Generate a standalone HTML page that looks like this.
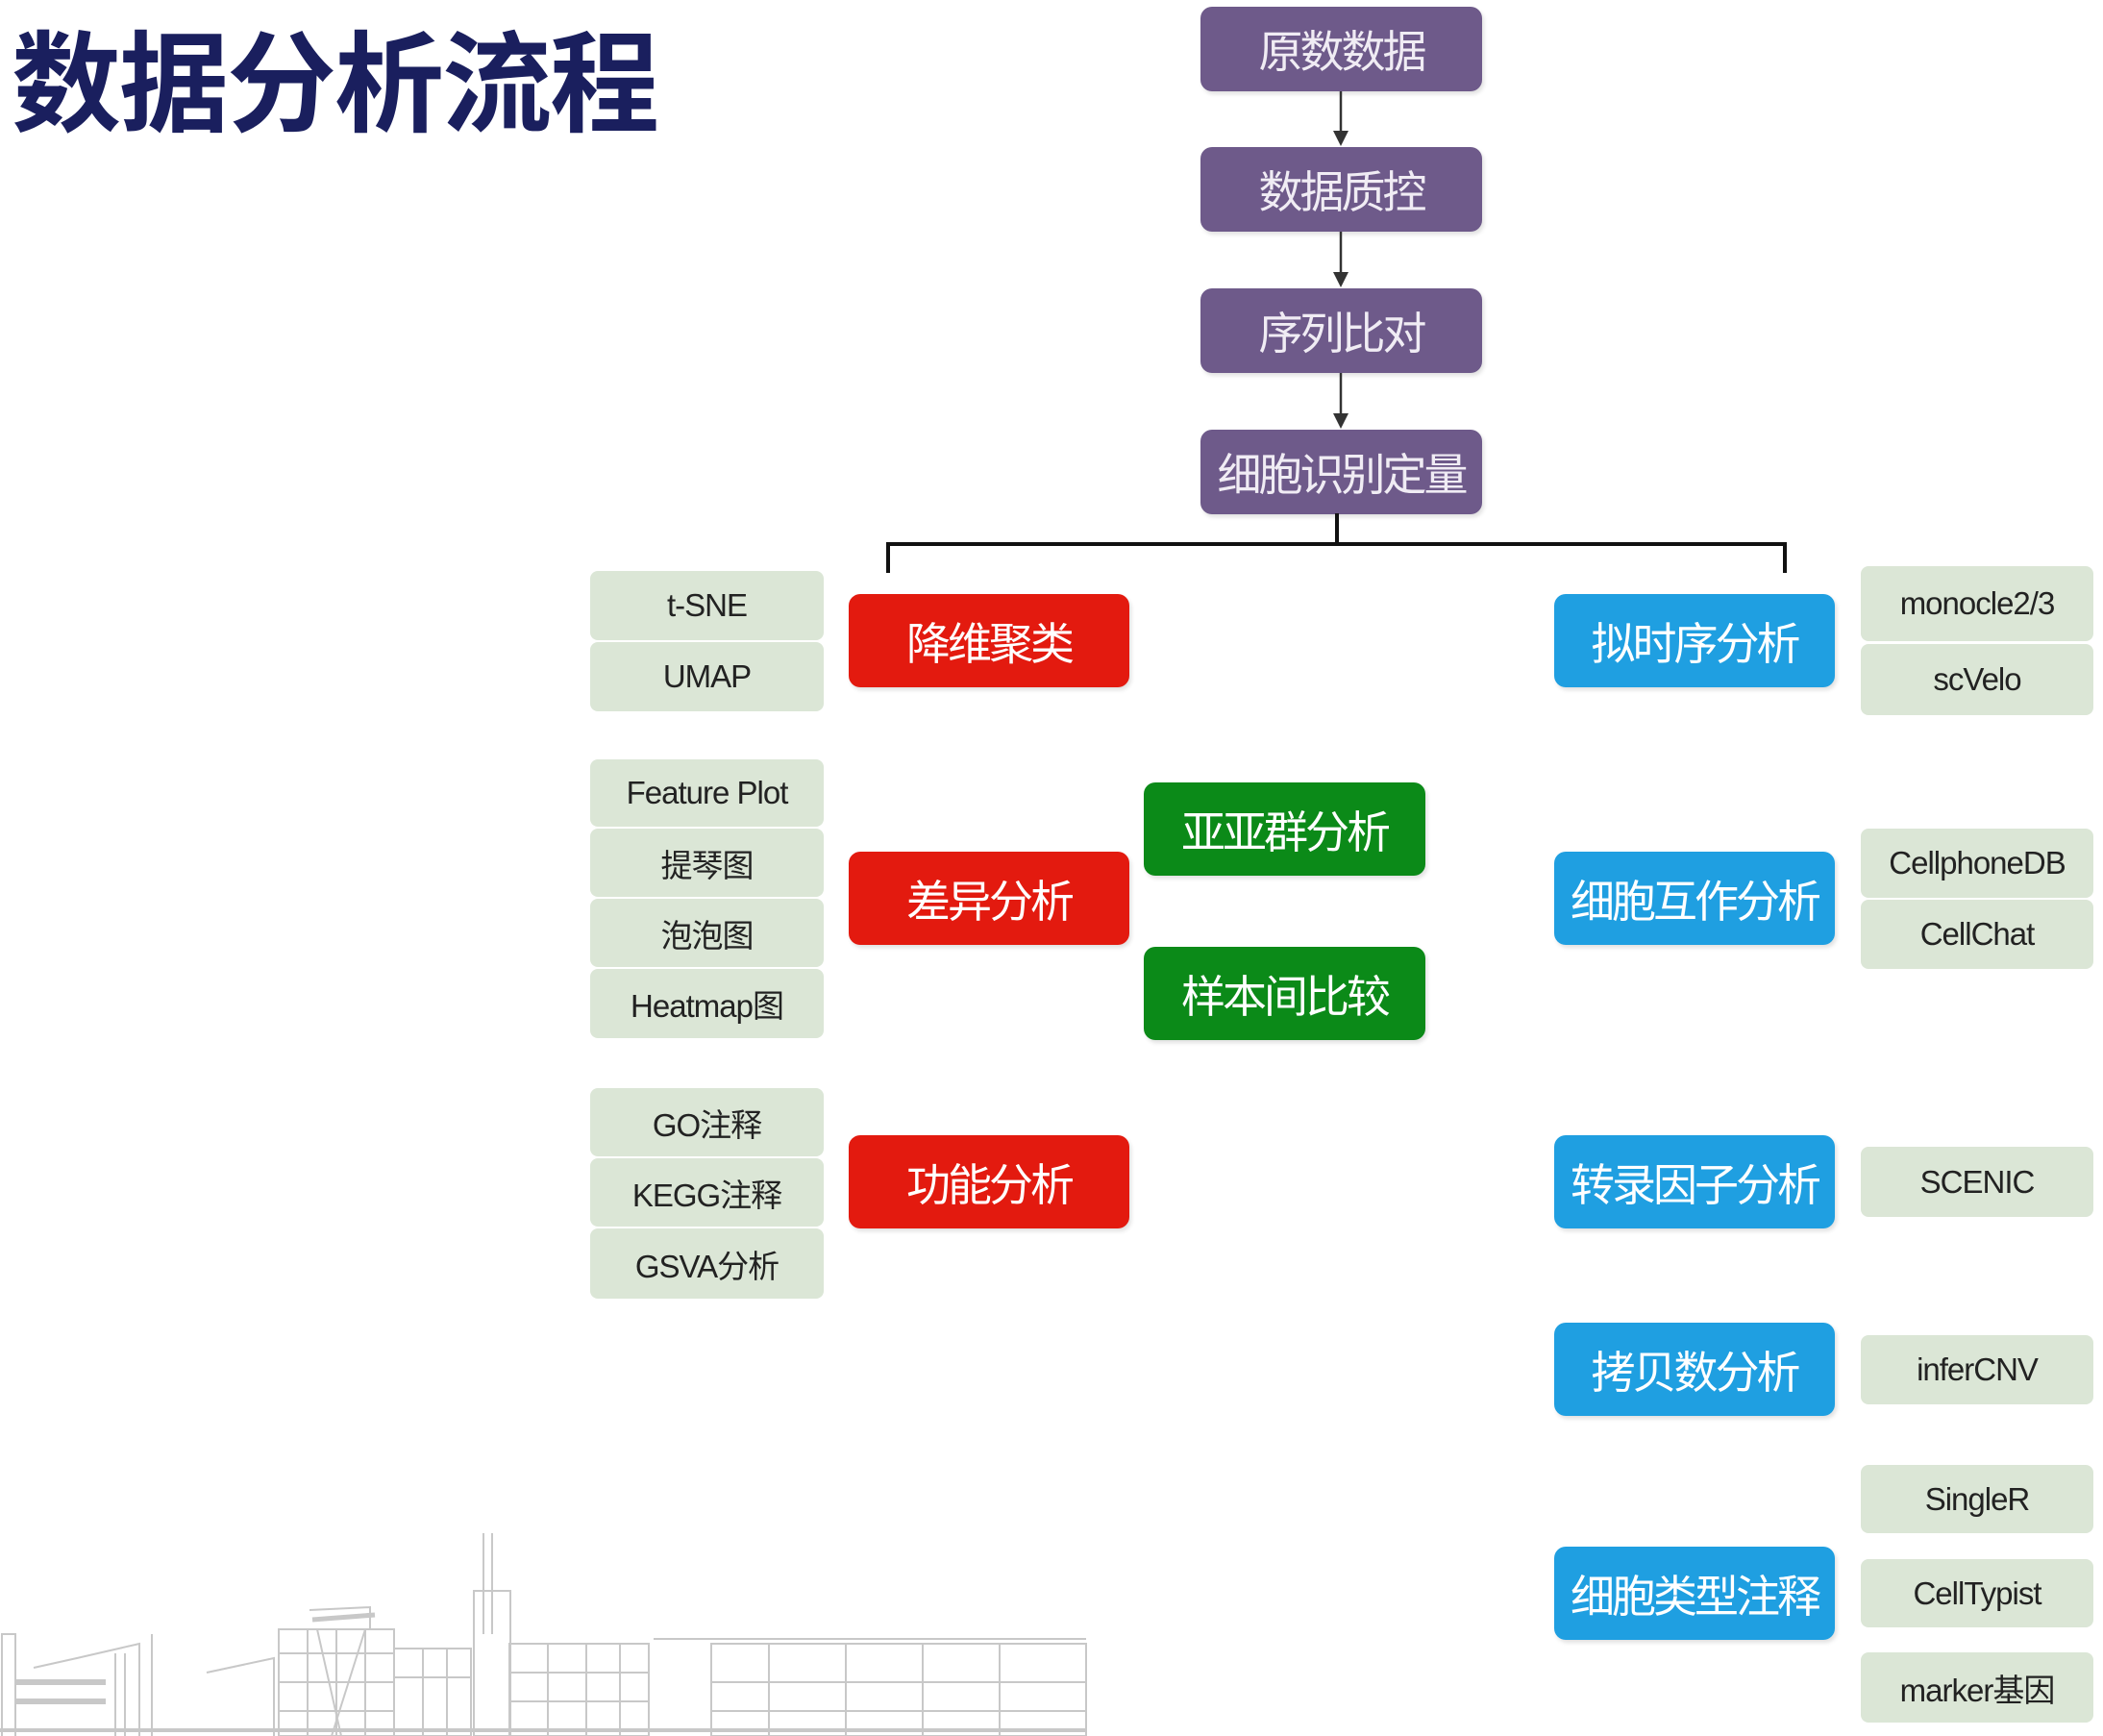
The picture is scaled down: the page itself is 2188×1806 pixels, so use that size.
<!DOCTYPE html>
<html><head><meta charset="utf-8"><style>
body{margin:0;width:2188px;height:1806px;background:#fff;position:relative;overflow:hidden;font-family:"Liberation Sans","Noto Sans CJK SC",sans-serif}
.b{position:absolute;border-radius:12px;color:#fff;display:flex;align-items:center;justify-content:center;font-size:46px;letter-spacing:-3px;white-space:nowrap;box-shadow:2px 3px 4px rgba(0,0,0,.12)}
.p{background:#6e5a8a;color:#f0ecf4;left:1249px;width:293px;height:88px}
.r{background:#e31a0f;left:883px;width:292px;height:97px}
.g{background:#0b8a18;left:1190px;width:293px;height:97px}
.u{background:#1f9fe1;left:1617px;width:292px;height:97px}
.t{position:absolute;background:#dbe6d6;border-radius:8px;color:#222;display:flex;align-items:center;justify-content:center;font-size:33px;letter-spacing:-1px;white-space:nowrap}
.L{left:614px;width:243px}
.R{left:1936px;width:242px}
</style></head><body>
<div style="position:absolute;left:12px;top:30px;font-size:114px;font-weight:bold;color:#1a1f5e;letter-spacing:-2px;line-height:120px">数据分析流程</div>

<div class="b p" style="top:7px">原数数据</div>
<div class="b p" style="top:153px">数据质控</div>
<div class="b p" style="top:300px">序列比对</div>
<div class="b p" style="top:447px">细胞识别定量</div>

<svg style="position:absolute;left:0;top:0" width="2188" height="900">
<g stroke="#333" stroke-width="2.5" fill="#333">
<line x1="1395" y1="95" x2="1395" y2="140"/><polygon points="1387,136 1403,136 1395,152" stroke="none"/>
<line x1="1395" y1="241" x2="1395" y2="287"/><polygon points="1387,283 1403,283 1395,299" stroke="none"/>
<line x1="1395" y1="388" x2="1395" y2="434"/><polygon points="1387,430 1403,430 1395,446" stroke="none"/>
</g>
<g stroke="#111" stroke-width="4" fill="none">
<polyline points="1391,534 1391,566"/>
<polyline points="924,596 924,566 1857,566 1857,596"/>
</g>
</svg>

<div class="b r" style="top:618px">降维聚类</div>
<div class="b r" style="top:886px">差异分析</div>
<div class="b r" style="top:1181px">功能分析</div>
<div class="b g" style="top:814px">亚亚群分析</div>
<div class="b g" style="top:985px">样本间比较</div>
<div class="b u" style="top:618px">拟时序分析</div>
<div class="b u" style="top:886px">细胞互作分析</div>
<div class="b u" style="top:1181px">转录因子分析</div>
<div class="b u" style="top:1376px">拷贝数分析</div>
<div class="b u" style="top:1609px">细胞类型注释</div>

<div class="t L" style="top:594px;height:72px">t-SNE</div>
<div class="t L" style="top:668px;height:72px">UMAP</div>
<div class="t L" style="top:790px;height:70px">Feature Plot</div>
<div class="t L" style="top:862px;height:71px">提琴图</div>
<div class="t L" style="top:935px;height:71px">泡泡图</div>
<div class="t L" style="top:1008px;height:72px">Heatmap图</div>
<div class="t L" style="top:1132px;height:71px">GO注释</div>
<div class="t L" style="top:1205px;height:71px">KEGG注释</div>
<div class="t L" style="top:1278px;height:73px">GSVA分析</div>

<div class="t R" style="top:589px;height:78px">monocle2/3</div>
<div class="t R" style="top:670px;height:74px">scVelo</div>
<div class="t R" style="top:862px;height:72px">CellphoneDB</div>
<div class="t R" style="top:936px;height:72px">CellChat</div>
<div class="t R" style="top:1193px;height:73px">SCENIC</div>
<div class="t R" style="top:1389px;height:72px">inferCNV</div>
<div class="t R" style="top:1524px;height:71px">SingleR</div>
<div class="t R" style="top:1622px;height:71px">CellTypist</div>
<div class="t R" style="top:1719px;height:73px">marker基因</div>

<svg style="position:absolute;left:0;top:1560px" width="1140" height="246">
<g stroke="#bbb" stroke-width="2" fill="none" opacity=".8">
<rect x="2" y="140" width="14" height="110"/>
<line x1="16" y1="190" x2="110" y2="190" stroke-width="6"/>
<line x1="16" y1="210" x2="110" y2="210" stroke-width="6"/>
<polyline points="35,175 80,165 145,150 145,246"/>
<line x1="120" y1="160" x2="120" y2="246"/><line x1="130" y1="160" x2="130" y2="246"/>
<line x1="158" y1="140" x2="158" y2="246"/>
<polyline points="215,180 285,165 285,246"/>
<rect x="290" y="135" width="120" height="111"/>
<line x1="290" y1="160" x2="410" y2="160"/><line x1="290" y1="190" x2="410" y2="190"/><line x1="290" y1="220" x2="410" y2="220"/>
<line x1="320" y1="135" x2="320" y2="246"/><line x1="350" y1="135" x2="350" y2="246"/><line x1="380" y1="135" x2="380" y2="246"/>
<polyline points="322,115 385,112 385,135"/>
<rect x="410" y="155" width="80" height="91"/>
<line x1="410" y1="185" x2="490" y2="185"/><line x1="440" y1="155" x2="440" y2="246"/><line x1="465" y1="155" x2="465" y2="246"/>
<line x1="325" y1="125" x2="390" y2="120" stroke-width="5"/>
<line x1="330" y1="135" x2="355" y2="246"/><line x1="380" y1="135" x2="345" y2="246"/>
<rect x="493" y="95" width="38" height="151"/>
<line x1="503" y1="35" x2="503" y2="140"/><line x1="512" y1="35" x2="512" y2="140"/>
<rect x="530" y="150" width="145" height="96"/>
<line x1="530" y1="180" x2="675" y2="180"/><line x1="530" y1="210" x2="675" y2="210"/>
<line x1="570" y1="150" x2="570" y2="246"/><line x1="610" y1="150" x2="610" y2="246"/><line x1="645" y1="150" x2="645" y2="246"/>
<line x1="680" y1="145" x2="1130" y2="145"/>
<rect x="740" y="150" width="390" height="96"/>
<line x1="740" y1="190" x2="1130" y2="190"/><line x1="740" y1="220" x2="1130" y2="220"/>
<line x1="800" y1="150" x2="800" y2="246"/><line x1="880" y1="150" x2="880" y2="246"/><line x1="960" y1="150" x2="960" y2="246"/><line x1="1040" y1="150" x2="1040" y2="246"/>
<line x1="0" y1="240" x2="1130" y2="240" stroke-width="4"/>
</g>
</svg>
</body></html>
